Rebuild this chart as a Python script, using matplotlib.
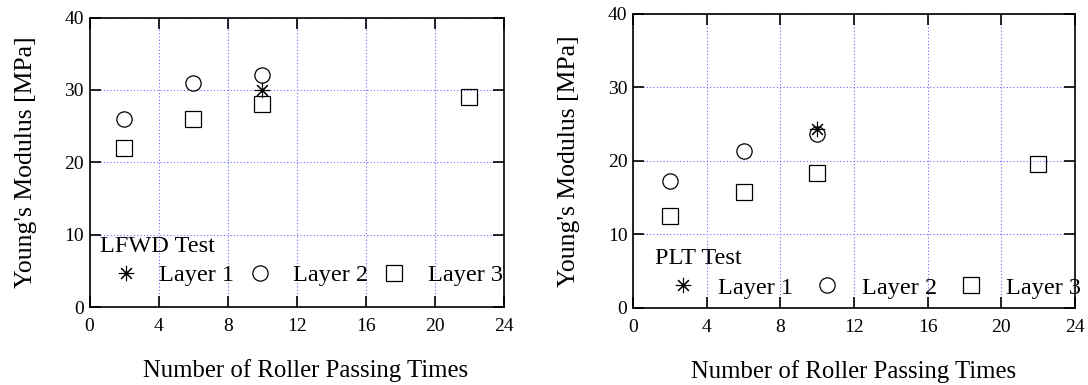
import matplotlib
matplotlib.use("Agg")
import matplotlib.pyplot as plt

plt.rcParams['font.family'] = ['Liberation Serif', 'DejaVu Serif']

# ---- data ----
x_ticks = [0, 4, 8, 12, 16, 20, 24]
y_ticks = [0, 10, 20, 30, 40]

lfwd_l1_x = [10]
lfwd_l1_y = [30]
lfwd_l2_x = [2, 6, 10]
lfwd_l2_y = [26, 31, 32]
lfwd_l3_x = [2, 6, 10, 22]
lfwd_l3_y = [22, 26, 28, 29]

plt_l1_x = [10]
plt_l1_y = [24.3]
plt_l2_x = [2, 6, 10]
plt_l2_y = [17.3, 21.3, 23.7]
plt_l3_x = [2, 6, 10, 22]
plt_l3_y = [12.5, 15.7, 18.3, 19.5]

series_labels = ["Layer 1", "Layer 2", "Layer 3"]
titles = ["LFWD Test", "PLT Test"]
xlabel = "Number of Roller Passing Times"
ylabel = "Young's Modulus [MPa]"

fig = plt.figure(figsize=(10.88, 3.85), dpi=100)
ax1 = fig.add_axes([89.5/1088, (385-307)/385, (504-89.5)/1088, (307-17.5)/385])
ax2 = fig.add_axes([633/1088, (385-308)/385, (1075-633)/1088, (308-13.5)/385])

AST = (8, 2, 0)
ms = 11
grid_color = (0.4, 0.4, 1.0)

def style(ax):
    ax.set_xlim(0, 24)
    ax.set_ylim(0, 40)
    ax.set_xticks(x_ticks)
    ax.set_yticks(y_ticks)
    ax.tick_params(direction='in', length=8, width=1.2, top=True, right=True,
                   labelsize=14)
    ax.tick_params(axis='x', pad=8)
    ax.tick_params(axis='y', pad=4)
    for s in ax.spines.values():
        s.set_linewidth(1.2)
    ax.grid(True, color=grid_color, linestyle=(0, (1, 2)), linewidth=0.8)
    ax.set_axisbelow(True)
    ax.set_xlabel(xlabel, fontsize=17.8, labelpad=17)
    ax.set_ylabel(ylabel, fontsize=18.5, labelpad=20)

def draw(ax, d, title, anchor, hl, tp, cs):
    (x1, y1), (x2, y2), (x3, y3) = d
    h1, = ax.plot(x1, y1, linestyle='none', marker=AST, ms=ms, mec='black', mew=0.8,
                  label=series_labels[0], clip_on=False)
    h2, = ax.plot(x2, y2, linestyle='none', marker='o', ms=ms, mfc='none', mec='black',
                  mew=0.9, label=series_labels[1], clip_on=False)
    h3, = ax.plot(x3, y3, linestyle='none', marker='s', ms=ms, mfc='none', mec='black',
                  mew=0.9, label=series_labels[2], clip_on=False)
    leg = ax.legend(handles=[h1, h2, h3], ncol=3, title=title, loc='upper left',
                    bbox_to_anchor=anchor, frameon=False, fontsize=17.5,
                    title_fontsize=17.5, handlelength=hl, handletextpad=tp,
                    columnspacing=cs, borderpad=0, borderaxespad=0,
                    labelspacing=0.3, alignment='left')
    return leg

style(ax1)
style(ax2)
ax1.xaxis.label.set_x(0.522)
draw(ax1, [(lfwd_l1_x, lfwd_l1_y), (lfwd_l2_x, lfwd_l2_y), (lfwd_l3_x, lfwd_l3_y)],
     titles[0], (0.025, 0.246), 2.12, 0.32, 0.0)
draw(ax2, [(plt_l1_x, plt_l1_y), (plt_l2_x, plt_l2_y), (plt_l3_x, plt_l3_y)],
     titles[1], (0.05, 0.203), 2.3, 0.28, 0.25)

fig.savefig("out.png", dpi=100)
